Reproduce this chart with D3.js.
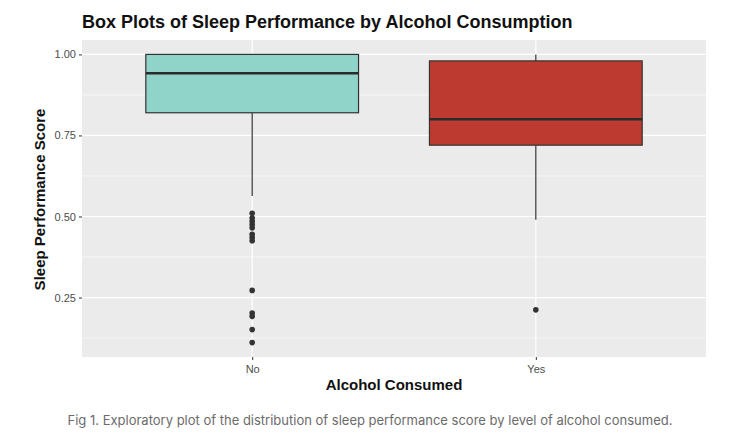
<!DOCTYPE html>
<html>
<head>
<meta charset="utf-8">
<script src="https://cdn.jsdelivr.net/npm/d3@7"></script>
<style>
  body { margin: 0; background: #fff; }
  svg { display: block; font-family: "Liberation Sans", Arial, sans-serif; }
</style>
</head>
<body>
<svg id="chart" width="751" height="443"></svg>
<script>
// categories and box statistics
const categories = ['No', 'Yes'];
const lowerWhisker = [0.563, 0.49];
const q1 = [0.82, 0.72];
const median = [0.942, 0.80];
const q3 = [1.00, 0.98];
const upperWhisker = [1.00, 1.00];
const fills = ['#90D3C9', '#BC3A2F'];

// outliers per category
const outliersNo = [0.51, 0.495, 0.485, 0.475, 0.465, 0.445, 0.435, 0.425, 0.272, 0.202, 0.192, 0.151, 0.111];
const outliersYes = [0.212];
const outliers = [outliersNo, outliersYes];

const yTicks = [0.25, 0.50, 0.75, 1.00];
const yMinor = [0.125, 0.375, 0.625, 0.875];

const svg = d3.select('#chart');
const panel = { left: 82, top: 40, right: 706, bottom: 357 };

// ggplot style range with 5% expansion
const yMin = 0.111, yMax = 1.0;
const pad = (yMax - yMin) * 0.05;
const y = d3.scaleLinear()
    .domain([yMin - pad, yMax + pad])
    .range([panel.bottom, panel.top]);

const x = d3.scalePoint()
    .domain(categories)
    .range([panel.left, panel.right])
    .padding(0.6);
const boxW = x.step() * 0.75;

// title
svg.append('text')
    .attr('x', 82).attr('y', 28)
    .attr('font-size', 18)
    .attr('font-weight', 'bold')
    .attr('fill', '#111')
    .text('Box Plots of Sleep Performance by Alcohol Consumption');

// panel background
svg.append('rect')
    .attr('x', panel.left).attr('y', panel.top)
    .attr('width', panel.right - panel.left)
    .attr('height', panel.bottom - panel.top)
    .attr('fill', '#EBEBEB');

// minor gridlines
svg.selectAll('line.minor')
    .data(yMinor)
    .enter().append('line')
    .attr('class', 'minor')
    .attr('x1', panel.left).attr('x2', panel.right)
    .attr('y1', d => y(d)).attr('y2', d => y(d))
    .attr('stroke', '#fff').attr('stroke-width', 0.6);

// major gridlines
svg.selectAll('line.major')
    .data(yTicks)
    .enter().append('line')
    .attr('class', 'major')
    .attr('x1', panel.left).attr('x2', panel.right)
    .attr('y1', d => y(d)).attr('y2', d => y(d))
    .attr('stroke', '#fff').attr('stroke-width', 1.2);

svg.selectAll('line.vmajor')
    .data(categories)
    .enter().append('line')
    .attr('class', 'vmajor')
    .attr('x1', d => x(d)).attr('x2', d => x(d))
    .attr('y1', panel.top).attr('y2', panel.bottom)
    .attr('stroke', '#fff').attr('stroke-width', 1.2);

// axes
const yAxis = svg.append('g')
    .attr('transform', `translate(${panel.left},0)`)
    .call(d3.axisLeft(y).tickValues(yTicks).tickFormat(d3.format('.2f')).tickSize(3).tickPadding(3));
yAxis.select('.domain').remove();
yAxis.selectAll('line').attr('stroke', '#333');
yAxis.selectAll('text').attr('font-size', 11).attr('fill', '#4d4d4d')
    .attr('font-family', '"Liberation Sans", Arial, sans-serif');

const xAxis = svg.append('g')
    .attr('transform', `translate(0,${panel.bottom})`)
    .call(d3.axisBottom(x).tickSize(3).tickPadding(5));
xAxis.select('.domain').remove();
xAxis.selectAll('line').attr('stroke', '#333');
xAxis.selectAll('text').attr('font-size', 11).attr('fill', '#4d4d4d')
    .attr('font-family', '"Liberation Sans", Arial, sans-serif');

// boxes
const boxes = svg.selectAll('g.box')
    .data(categories)
    .enter().append('g')
    .attr('class', 'box');

boxes.append('line')
    .attr('x1', d => x(d)).attr('x2', d => x(d))
    .attr('y1', (d, i) => y(upperWhisker[i])).attr('y2', (d, i) => y(q3[i]))
    .attr('stroke', '#333').attr('stroke-width', 1.2);
boxes.append('line')
    .attr('x1', d => x(d)).attr('x2', d => x(d))
    .attr('y1', (d, i) => y(q1[i])).attr('y2', (d, i) => y(lowerWhisker[i]))
    .attr('stroke', '#333').attr('stroke-width', 1.2);

boxes.append('rect')
    .attr('x', d => x(d) - boxW / 2)
    .attr('y', (d, i) => y(q3[i]))
    .attr('width', boxW)
    .attr('height', (d, i) => y(q1[i]) - y(q3[i]))
    .attr('fill', (d, i) => fills[i])
    .attr('stroke', '#333').attr('stroke-width', 1.2);

boxes.append('line')
    .attr('x1', d => x(d) - boxW / 2).attr('x2', d => x(d) + boxW / 2)
    .attr('y1', (d, i) => y(median[i])).attr('y2', (d, i) => y(median[i]))
    .attr('stroke', '#2b2b2b').attr('stroke-width', 2.4);

// outlier points
boxes.each(function(d, i) {
    d3.select(this).selectAll('circle')
        .data(outliers[i])
        .enter().append('circle')
        .attr('cx', x(d))
        .attr('cy', v => y(v))
        .attr('r', 2.8)
        .attr('fill', '#333');
});

// axis titles
svg.append('text')
    .attr('x', (panel.left + panel.right) / 2).attr('y', 390)
    .attr('text-anchor', 'middle')
    .attr('font-size', 15).attr('font-weight', 'bold').attr('fill', '#111')
    .text('Alcohol Consumed');

svg.append('text')
    .attr('transform', `translate(45,${(panel.top + panel.bottom) / 2 + 1}) rotate(-90)`)
    .attr('text-anchor', 'middle')
    .attr('font-size', 15).attr('font-weight', 'bold').attr('fill', '#111')
    .text('Sleep Performance Score');

// caption
svg.append('text')
    .attr('x', 370).attr('y', 425)
    .attr('text-anchor', 'middle')
    .attr('font-size', 13).attr('fill', '#6b6b6b')
    .attr('font-family', 'Inter, "Noto Sans", sans-serif')
    .text('Fig 1. Exploratory plot of the distribution of sleep performance score by level of alcohol consumed.');
</script>
</body>
</html>
